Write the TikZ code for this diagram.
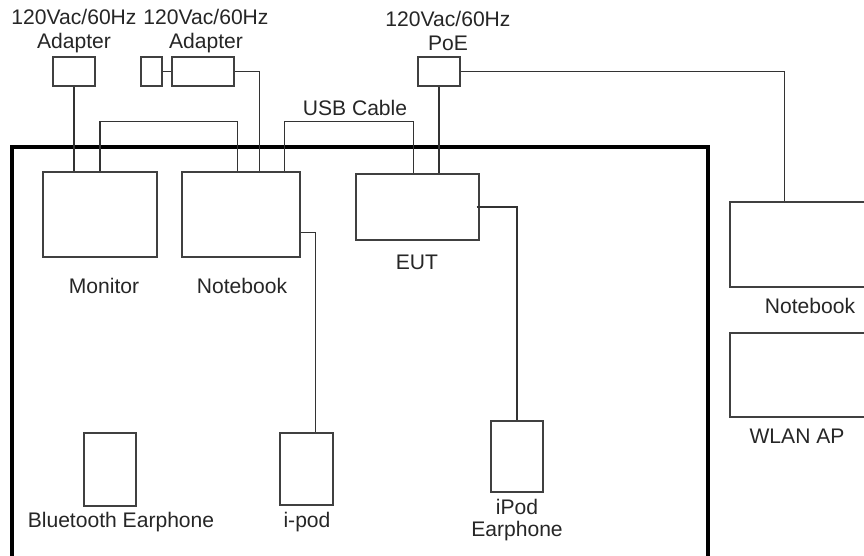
\documentclass[tikz,border=0pt]{standalone}
\usepackage{fontspec}
\setmainfont{Liberation Sans}
\usetikzlibrary{calc}
\begin{document}
\begin{tikzpicture}[x=0.02cm,y=-0.02cm,
  box/.style={draw=black!75,line width=0.85pt,inner sep=0pt},
  wire/.style={draw=black!80,line width=0.8pt},
  lbl/.style={text=black!85,font=\fontsize{12}{14}\selectfont,inner sep=0pt,align=center}]
  \useasboundingbox (0,0) rectangle (864,555);
  \clip (0,0) rectangle (864,555);

  % test area
  \draw[line width=2pt] (12,600) -- (12,147) -- (708,147) -- (708,600);

  % power supplies
  \node[box,minimum width=0.84cm,minimum height=0.58cm] (adpA) at (74,71.5) {};
  \node[box,minimum width=0.42cm,minimum height=0.58cm] (plug) at (151.5,71.5) {};
  \node[box,minimum width=1.24cm,minimum height=0.58cm] (adpB) at (203,71.5) {};
  \node[box,minimum width=0.84cm,minimum height=0.58cm] (poe) at (439,71.5) {};
  \node[lbl] (adpAlbl) at (74,31) {120Vac/60Hz\\Adapter};
  \node[lbl] (adpBlbl) at (206,31) {120Vac/60Hz\\Adapter};
  \node[lbl] (poelbl) at (448,31) {120Vac/60Hz\\PoE};

  % devices
  \node[box,minimum width=2.28cm,minimum height=1.7cm] (monitor) at (100,214.5) {};
  \node[box,minimum width=2.36cm,minimum height=1.7cm] (nbook) at (241,214.5) {};
  \node[box,minimum width=2.46cm,minimum height=1.32cm] (eut) at (417.5,207) {};
  \node[box,minimum width=3.2cm,minimum height=1.7cm] (rnbook) at (810,244.5) {};
  \node[box,minimum width=3.2cm,minimum height=1.68cm] (wlan) at (810,375) {};
  \node[box,minimum width=1.04cm,minimum height=1.46cm] (bte) at (110,469.5) {};
  \node[box,minimum width=1.06cm,minimum height=1.44cm] (ipod) at (306.5,469) {};
  \node[box,minimum width=1.04cm,minimum height=1.42cm] (ipe) at (517,456.5) {};

  \node[lbl] (monitorlbl) at (104,286) {Monitor};
  \node[lbl] (nbooklbl) at (242,286) {Notebook};
  \node[lbl] (eutlbl) at (417,262) {EUT};
  \node[lbl] (rnbooklbl) at (810,306) {Notebook};
  \node[lbl] (wlanlbl) at (797,436) {WLAN AP};
  \node[lbl] (btelbl) at (121,522) {Bluetooth Earphone};
  \node[lbl] (ipodlbl) at (307,522) {i-pod};
  \node[lbl] (ipelbl) at (517,520) {iPod\\[-2pt]Earphone};

  % cables
  \coordinate (nbA) at ($(nbook.north west)+(56,0)$);
  \coordinate (nbB) at ($(nbook.north west)+(78,0)$);
  \coordinate (nbC) at ($(nbook.north west)+(103,0)$);
  \coordinate (eutA) at ($(eut.north west)+(58,0)$);
  \coordinate (rnbA) at ($(rnbook.north west)+(55,0)$);
  \coordinate (ipodA) at ($(ipod.north west)+(36,0)$);

  \draw[wire] (adpA) -- (adpA |- monitor.north);
  \draw[wire] (plug) -- (adpB);
  \draw[wire] (adpB.east) -| (nbB);
  \draw[wire] (monitor.north) -- ++(0,-50) -| (nbA);
  \draw[wire] (nbC) -- ++(0,-50) -| (eutA);
  \node[lbl] (usblbl) at (355,108) {USB Cable};
  \draw[wire] (poe) -- (poe |- eut.north);
  \draw[wire] (poe.east) -| (rnbA);
  \draw[wire] ($(eut.east)+(-3,0)$) -| (ipe.north);
  \draw[wire] ($(nbook.south east)+(0,-25)$) -| (ipodA);
\end{tikzpicture}
\end{document}
